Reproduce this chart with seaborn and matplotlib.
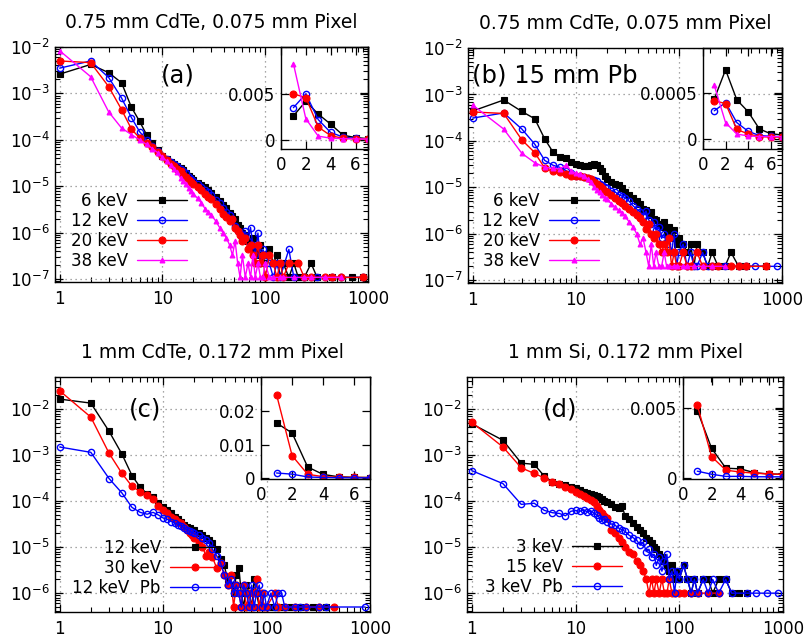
"""
Cluster-size distributions, 4 panels with linear insets (gnuplot look-alike).
"""
import numpy as np
import pandas as pd
import matplotlib
matplotlib.use("Agg")
import matplotlib.pyplot as plt
from matplotlib.ticker import FixedLocator, FixedFormatter, FuncFormatter, NullFormatter
import seaborn as sns

nan = np.nan

# ── Data ────────────────────────────────────────────────────────────────────
SIZE = [1, 2, 3, 4, 5, 6, 7, 8, 9, 10, 11, 12, 13, 14, 15, 16, 17, 18, 19, 20,
        22, 24, 26, 28, 30, 33, 36, 39, 42, 45, 48, 51, 54, 57, 60, 64, 68, 72, 76, 80,
        85, 90, 95, 100, 110, 120, 130, 140, 150, 170, 190, 210, 240, 280, 320, 380, 450, 550, 700, 900]

# (a) 0.75 mm CdTe
A_6 = [2.6e-3, 4.2e-3, 2.8e-3, 1.7e-3, 5.0e-4, 2.5e-4, 1.3e-4, 8.5e-5, 6.0e-5, 4.6e-5,
       3.9e-5, 3.4e-5, 3.1e-5, 2.8e-5, 2.5e-5, 2.2e-5, 1.9e-5, 1.7e-5, 1.5e-5, 1.4e-5,
       1.2e-5, 1.05e-5, 9.5e-6, 8.2e-6, 7.3e-6, 6.0e-6, 4.8e-6, 4.0e-6, 3.5e-6, 2.7e-6,
       2.3e-6, 2.0e-6, 1.5e-6, 1.3e-6, 1.0e-6, 8.8e-7, 6.6e-7, 5.5e-7, 7.7e-7, 4.4e-7,
       3.3e-7, 5.5e-7, 2.2e-7, 3.3e-7, 4.4e-7, 2.2e-7, 3.3e-7, 1.1e-7, 2.2e-7, 1.1e-7,
       2.2e-7, 1.1e-7, 1.1e-7, 2.2e-7, 1.1e-7, nan, 1.1e-7, nan, 1.1e-7, 1.1e-7]
A_12 = [3.5e-3, 5.0e-3, 2.2e-3, 8.0e-4, 3.0e-4, 1.5e-4, 1.0e-4, 7.5e-5, 5.8e-5, 4.5e-5,
        3.8e-5, 3.3e-5, 3.0e-5, 2.7e-5, 2.4e-5, 2.1e-5, 1.9e-5, 1.6e-5, 1.45e-5, 1.3e-5,
        1.1e-5, 9.5e-6, 8.5e-6, 7.5e-6, 6.5e-6, 5.2e-6, 4.4e-6, 3.5e-6, 2.8e-6, 2.4e-6,
        2.0e-6, 1.4e-6, 1.1e-6, 9.9e-7, 7.7e-7, 1.1e-6, 6.6e-7, 1.3e-6, 5.5e-7, 3.3e-7,
        9.9e-7, 2.2e-7, 4.4e-7, 3.3e-7, 2.2e-7, 1.1e-7, 2.2e-7, 1.1e-7, nan, 4.4e-7,
        1.1e-7, nan, 1.1e-7, nan, 1.1e-7, nan, 1.1e-7, 1.1e-7, nan, 1.1e-7]
A_20 = [5.0e-3, 4.6e-3, 1.4e-3, 4.5e-4, 1.7e-4, 1.1e-4, 8.5e-5, 7.0e-5, 5.5e-5, 4.4e-5,
        3.7e-5, 3.1e-5, 2.7e-5, 2.4e-5, 2.1e-5, 1.8e-5, 1.6e-5, 1.4e-5, 1.25e-5, 1.1e-5,
        9.5e-6, 8.2e-6, 7.0e-6, 6.0e-6, 5.3e-6, 4.2e-6, 3.3e-6, 2.6e-6, 2.2e-6, 1.8e-6,
        2.0e-6, 1.3e-6, 1.1e-6, 8.8e-7, 6.6e-7, 7.7e-7, 4.4e-7, 5.5e-7, 3.3e-7, 2.2e-7,
        5.5e-7, 2.2e-7, 3.3e-7, 1.1e-7, 3.3e-7, 2.2e-7, 1.1e-7, 2.2e-7, 1.1e-7, 2.2e-7,
        nan, 2.2e-7, 1.1e-7, 1.1e-7, nan, 1.1e-7, 1.1e-7, 1.1e-7, nan, 1.1e-7]
A_38 = [8.3e-3, 2.3e-3, 4.0e-4, 1.8e-4, 1.3e-4, 1.0e-4, 8.0e-5, 6.5e-5, 5.3e-5, 4.3e-5,
        3.5e-5, 2.9e-5, 2.4e-5, 2.0e-5, 1.5e-5, 1.3e-5, 1.1e-5, 9.0e-6, 8.0e-6, 7.0e-6,
        5.5e-6, 4.4e-6, 3.3e-6, 2.8e-6, 2.4e-6, 1.8e-6, 1.3e-6, 1.0e-6, 7.7e-7, 5.5e-7,
        3.3e-7, 6.6e-7, 2.2e-7, 1.1e-7, 3.3e-7, 1.1e-7, 2.2e-7, 1.1e-7, 3.3e-7, 1.1e-7,
        2.2e-7, 1.1e-7, 1.1e-7, 2.2e-7, 1.1e-7, 1.1e-7, nan, 1.1e-7, 1.1e-7, nan,
        1.1e-7, nan, 1.1e-7, 1.1e-7, nan, 1.1e-7, nan, 1.1e-7, nan, nan]

# (b) 0.75 mm CdTe behind 15 mm Pb
B_6 = [4.4e-4, 7.6e-4, 4.3e-4, 3.0e-4, 1.1e-4, 5.8e-5, 4.5e-5, 4.2e-5, 3.6e-5, 3.2e-5,
       3.0e-5, 2.9e-5, 2.9e-5, 3.0e-5, 3.2e-5, 3.0e-5, 2.6e-5, 2.2e-5, 1.8e-5, 1.5e-5,
       1.3e-5, 1.2e-5, 1.1e-5, 9.5e-6, 8.0e-6, 6.8e-6, 6.0e-6, 5.0e-6, 4.4e-6, 3.5e-6,
       3.3e-6, 2.6e-6, 2.9e-6, 2.1e-6, 2.0e-6, 1.6e-6, 1.4e-6, 1.8e-6, 1.0e-6, 1.4e-6,
       8.0e-7, 1.2e-6, 6.0e-7, 8.0e-7, 6.0e-7, 4.0e-7, 6.0e-7, 2.0e-7, 6.0e-7, 4.0e-7,
       2.0e-7, 4.0e-7, 2.0e-7, 2.0e-7, 4.0e-7, 2.0e-7, 2.0e-7, nan, 2.0e-7, nan]
B_12 = [3.1e-4, 4.0e-4, 1.8e-4, 8.5e-5, 3.8e-5, 3.0e-5, 2.7e-5, 2.3e-5, 2.0e-5, 1.8e-5,
        1.75e-5, 1.7e-5, 1.6e-5, 1.55e-5, 1.45e-5, 1.35e-5, 1.2e-5, 1.1e-5, 1.0e-5, 9.5e-6,
        8.5e-6, 8.0e-6, 7.0e-6, 6.5e-6, 6.0e-6, 5.0e-6, 4.0e-6, 3.4e-6, 3.0e-6, 2.4e-6,
        3.1e-6, 2.0e-6, 1.6e-6, 1.8e-6, 1.2e-6, 1.4e-6, 8.0e-7, 1.0e-6, 6.0e-7, 8.0e-7,
        4.0e-7, 1.0e-6, 2.0e-7, 4.0e-7, 6.0e-7, 2.0e-7, 4.0e-7, 2.0e-7, 2.0e-7, 4.0e-7,
        2.0e-7, 2.0e-7, nan, 2.0e-7, nan, 2.0e-7, 2.0e-7, 2.0e-7, nan, 2.0e-7]
B_20 = [4.2e-4, 3.9e-4, 1.05e-4, 5.6e-5, 2.6e-5, 2.2e-5, 2.1e-5, 1.9e-5, 1.8e-5, 1.8e-5,
        1.75e-5, 1.7e-5, 1.6e-5, 1.5e-5, 1.3e-5, 1.2e-5, 1.05e-5, 9.5e-6, 8.5e-6, 8.0e-6,
        7.0e-6, 6.0e-6, 5.2e-6, 4.6e-6, 4.0e-6, 3.4e-6, 3.0e-6, 2.6e-6, 2.2e-6, 1.8e-6,
        1.3e-6, 1.6e-6, 1.0e-6, 8.0e-7, 1.0e-6, 6.0e-7, 4.0e-7, 6.0e-7, 4.0e-7, 8.0e-7,
        2.0e-7, 4.0e-7, 2.0e-7, 2.0e-7, 4.0e-7, 2.0e-7, 2.0e-7, nan, 4.0e-7, 2.0e-7,
        nan, 2.0e-7, 2.0e-7, nan, 2.0e-7, 2.0e-7, 2.0e-7, nan, 2.0e-7, nan]
B_38 = [5.9e-4, 1.8e-4, 5.4e-5, 3.4e-5, 2.7e-5, 2.6e-5, 2.5e-5, 3.0e-5, 2.3e-5, 2.0e-5,
        1.9e-5, 1.8e-5, 1.5e-5, 1.3e-5, 1.0e-5, 9.0e-6, 8.0e-6, 6.8e-6, 6.0e-6, 5.5e-6,
        4.5e-6, 3.8e-6, 3.2e-6, 2.8e-6, 2.4e-6, 1.8e-6, 1.4e-6, 1.0e-6, 6.0e-7, 8.0e-7,
        4.0e-7, 2.0e-7, 6.0e-7, 2.0e-7, 4.0e-7, 2.0e-7, 2.0e-7, 4.0e-7, 2.0e-7, 2.0e-7,
        nan, 2.0e-7, 2.0e-7, nan, 2.0e-7, 2.0e-7, nan, 2.0e-7, nan, 2.0e-7,
        nan, 2.0e-7, nan, 2.0e-7, nan, nan, nan, nan, nan, nan]

# (c) 1 mm CdTe, 0.172 mm pixel
C_12 = [1.65e-2, 1.35e-2, 3.3e-3, 1.05e-3, 3.6e-4, 2.0e-4, 1.45e-4, 1.25e-4, 9.0e-5, 7.6e-5,
        6.4e-5, 5.4e-5, 4.6e-5, 4.0e-5, 3.5e-5, 3.1e-5, 2.8e-5, 2.6e-5, 2.4e-5, 2.3e-5,
        2.0e-5, 1.8e-5, 1.6e-5, 1.4e-5, 1.2e-5, 9.0e-6, 5.5e-6, 4.0e-6, 2.0e-6, 1.5e-6,
        1.0e-6, 2.5e-6, 3.5e-6, 1.0e-6, 5.0e-7, 1.5e-6, 1.0e-6, 5.0e-7, 2.0e-6, 1.0e-6,
        5.0e-7, 1.0e-6, 5.0e-7, nan, 5.0e-7, 5.0e-7, nan, 5.0e-7, nan, 5.0e-7,
        nan, 5.0e-7, nan, 5.0e-7, nan, 5.0e-7, nan, nan, nan, nan]
C_30 = [2.5e-2, 6.7e-3, 1.1e-3, 4.0e-4, 2.1e-4, 1.6e-4, 1.35e-4, 1.1e-4, 8.0e-5, 6.4e-5,
        5.5e-5, 4.6e-5, 4.0e-5, 3.6e-5, 3.3e-5, 2.8e-5, 2.4e-5, 2.0e-5, 1.8e-5, 1.6e-5,
        1.3e-5, 1.0e-5, 6.5e-6, 8.0e-6, 6.0e-6, 3.5e-6, 4.5e-6, 2.5e-6, 1.5e-6, 2.5e-6,
        5.0e-7, 1.5e-6, 1.0e-6, 5.0e-7, 1.5e-6, 5.0e-7, 1.0e-6, 5.0e-7, 1.0e-6, 2.0e-6,
        5.0e-7, 1.0e-6, 5.0e-7, 5.0e-7, nan, 1.0e-6, 5.0e-7, nan, 5.0e-7, nan,
        5.0e-7, nan, 5.0e-7, nan, 5.0e-7, nan, 5.0e-7, nan, nan, nan]
C_12PB = [1.5e-3, 1.15e-3, 3.1e-4, 1.5e-4, 7.3e-5, 5.7e-5, 5.2e-5, 5.7e-5, 5.0e-5, 4.3e-5,
          4.0e-5, 3.6e-5, 3.3e-5, 3.1e-5, 2.9e-5, 2.6e-5, 2.4e-5, 2.2e-5, 2.1e-5, 2.0e-5,
          1.8e-5, 1.6e-5, 1.4e-5, 1.2e-5, 9.0e-6, 6.5e-6, 4.5e-6, 2.5e-6, 1.5e-6, 2.0e-6,
          1.0e-6, 1.5e-6, 1.0e-6, 5.0e-7, 1.5e-6, 1.0e-6, 5.0e-7, 1.5e-6, 5.0e-7, 1.0e-6,
          1.5e-6, 5.0e-7, 1.0e-6, 5.0e-7, 1.0e-6, 5.0e-7, 1.0e-6, 1.0e-6, 5.0e-7, nan,
          5.0e-7, 5.0e-7, 5.0e-7, nan, 5.0e-7, 5.0e-7, nan, nan, nan, 5.0e-7]

# (d) 1 mm Si, 0.172 mm pixel
D_3 = [4.8e-3, 2.1e-3, 6.7e-4, 6.3e-4, 3.5e-4, 2.6e-4, 2.4e-4, 2.2e-4, 2.0e-4, 1.9e-4,
       1.75e-4, 1.6e-4, 1.5e-4, 1.45e-4, 1.35e-4, 1.3e-4, 1.2e-4, 1.1e-4, 1.0e-4, 9.5e-5,
       8.5e-5, 7.5e-5, 7.0e-5, 8.0e-5, 4.8e-5, 4.0e-5, 3.3e-5, 2.8e-5, 2.4e-5, 2.0e-5,
       1.6e-5, 1.4e-5, 1.2e-5, 1.0e-5, 9.0e-6, 7.0e-6, 6.0e-6, 5.0e-6, 4.0e-6, 3.0e-6,
       4.0e-6, 2.0e-6, 3.0e-6, 2.0e-6, 4.0e-6, 2.0e-6, 1.0e-6, 2.0e-6, 1.0e-6, 2.0e-6,
       2.0e-6, 1.0e-6, 2.0e-6, 2.0e-6, 1.0e-6, 1.0e-6, 1.0e-6, nan, nan, nan]
D_15 = [5.2e-3, 1.5e-3, 5.3e-4, 4.0e-4, 3.2e-4, 2.6e-4, 2.3e-4, 2.0e-4, 1.8e-4, 1.6e-4,
        1.4e-4, 1.3e-4, 1.15e-4, 1.05e-4, 9.5e-5, 8.0e-5, 6.3e-5, 5.5e-5, 4.8e-5, 4.2e-5,
        2.3e-5, 2.0e-5, 1.6e-5, 1.3e-5, 1.0e-5, 8.0e-6, 7.0e-6, 5.0e-6, 4.0e-6, 3.0e-6,
        2.0e-6, 1.0e-6, 2.0e-6, 1.0e-6, 2.0e-6, 1.0e-6, 2.0e-6, 1.0e-6, 1.0e-6, 2.0e-6,
        1.0e-6, 1.0e-6, nan, 1.0e-6, 1.0e-6, nan, 1.0e-6, nan, 1.0e-6, nan,
        1.0e-6, nan, 1.0e-6, nan, nan, nan, nan, nan, nan, nan]
D_3PB = [4.6e-4, 2.4e-4, 8.5e-5, 9.0e-5, 6.3e-5, 5.6e-5, 5.4e-5, 4.8e-5, 6.0e-5, 6.3e-5,
         6.0e-5, 6.5e-5, 5.8e-5, 6.2e-5, 5.5e-5, 5.0e-5, 4.4e-5, 3.8e-5, 4.0e-5, 3.6e-5,
         3.2e-5, 3.0e-5, 2.6e-5, 2.4e-5, 2.2e-5, 1.8e-5, 1.6e-5, 1.4e-5, 1.1e-5, 1.3e-5,
         8.0e-6, 9.0e-6, 6.0e-6, 7.0e-6, 4.0e-6, 6.0e-6, 3.0e-6, 5.0e-6, 7.0e-6, 2.0e-6,
         3.0e-6, 1.0e-6, 3.0e-6, 2.0e-6, 4.0e-6, 2.0e-6, 1.0e-6, 2.0e-6, 1.0e-6, 2.0e-6,
         1.0e-6, 2.0e-6, 1.0e-6, 2.0e-6, 1.0e-6, nan, 1.0e-6, 1.0e-6, 1.0e-6, 1.0e-6]

TITLES = ["0.75 mm CdTe, 0.075 mm Pixel", "0.75 mm CdTe, 0.075 mm Pixel",
          "1 mm CdTe, 0.172 mm Pixel", "1 mm Si, 0.172 mm Pixel"]
TAGS = ["(a)", "(b) 15 mm Pb", "(c)", "(d)"]
INSET_XTICKS = [0, 2, 4, 6]
INSET_YTICKS = [[0, 0.005], [0, 0.0005], [0, 0.01, 0.02], [0, 0.005]]
INSET_YLABELS = [["0", "0.005"], ["0", "0.0005"], ["0", "0.01", "0.02"], ["0", "0.005"]]
N_INSET = 7   # first cluster sizes shown in the linear insets

# ── Styles (gnuplot-like) ───────────────────────────────────────────────────
STY = {
    "k": dict(color="#000000", marker="s", markersize=5, markerfacecolor="#000000", markeredgewidth=0.8),
    "b": dict(color="#0000ff", marker="o", markersize=4.5, markerfacecolor="none", markeredgewidth=1.0),
    "r": dict(color="#ff0000", marker="o", markersize=5, markerfacecolor="#ff0000", markeredgewidth=0.8),
    "m": dict(color="#ff00ff", marker="^", markersize=3.5, markerfacecolor="#ff00ff", markeredgewidth=0.8),
}

sns.set_theme(style="ticks")
plt.rcParams.update({
    "font.family": ["DejaVu Sans"],
    "axes.linewidth": 1.0,
    "axes.edgecolor": "black",
    "xtick.color": "black",
    "ytick.color": "black",
    "text.color": "black",
})

GRID = dict(linestyle=(0, (1, 3)), color="#8a8a8a", linewidth=0.9)
TICK_FS = 12


def draw_series(ax, x, y, key):
    df = pd.DataFrame({"x": x, "y": y}).dropna()
    sns.lineplot(data=df, x="x", y="y", ax=ax, estimator=None, sort=False,
                 linewidth=1.0, markeredgecolor=STY[key]["color"], legend=False, **STY[key])
    return ax.lines[-1]


def style_ticks(ax, size):
    ax.tick_params(which="both", direction="in", top=True, right=True,
                   labelsize=size, color="black")
    ax.tick_params(which="major", length=6, width=0.9)
    ax.tick_params(which="minor", length=3.5, width=0.8)


def panel(fig, rect, irect, k, series, ylim, iylim, tag_xy, tag_ha, leg_anchor, inset_bg):
    ax = fig.add_axes(rect)
    ax.set_xscale("log")
    ax.set_yscale("log")
    handles = []
    for label, y, key in series:
        ln = draw_series(ax, SIZE, y, key)
        ln.set_label(label)
        handles.append(ln)
    ax.set_xlim(0.9, 1000)
    ax.set_ylim(*ylim)
    ax.xaxis.set_major_locator(FixedLocator([1, 10, 100, 1000]))
    ax.xaxis.set_major_formatter(FuncFormatter(lambda v, _: f"{v:g}"))
    ax.xaxis.set_minor_formatter(NullFormatter())
    ax.set_xlabel("")
    ax.set_ylabel("")
    style_ticks(ax, TICK_FS)
    ax.tick_params(axis="x", pad=6)
    ax.tick_params(axis="y", pad=4)
    ax.grid(True, which="major", **GRID)
    ax.set_title(TITLES[k], fontsize=13.5, pad=14)
    ax.text(tag_xy[0], tag_xy[1], TAGS[k], transform=ax.transAxes, fontsize=17.5,
            ha=tag_ha, va="center")
    ax.legend(handles=handles, loc="upper right", bbox_to_anchor=leg_anchor,
              markerfirst=False, frameon=False, fontsize=12, handlelength=3.0,
              handletextpad=0.55, labelspacing=0.12, borderpad=0, borderaxespad=0)

    ins = fig.add_axes(irect)
    ins.set_facecolor(inset_bg)
    for label, y, key in series:
        draw_series(ins, SIZE[:N_INSET], y[:N_INSET], key)
    ins.set_xlim(0, 7)
    ins.set_ylim(*iylim)
    ins.xaxis.set_major_locator(FixedLocator(INSET_XTICKS))
    ins.yaxis.set_major_locator(FixedLocator(INSET_YTICKS[k]))
    ins.yaxis.set_major_formatter(FixedFormatter(INSET_YLABELS[k]))
    ins.set_xlabel("")
    ins.set_ylabel("")
    style_ticks(ins, TICK_FS)
    ins.tick_params(axis="x", pad=5)
    ins.tick_params(axis="y", pad=4)
    return ax, ins


fig = plt.figure(figsize=(8.06, 6.39), dpi=100, facecolor="white")

panel(fig, [0.0682, 0.5587, 0.3883, 0.3678], [0.3486, 0.7668, 0.1079, 0.1596], 0,
      [("6 keV", A_6, "k"), ("12 keV", A_12, "b"), ("20 keV", A_20, "r"), ("38 keV", A_38, "m")],
      (8.75e-8, 1.0e-2), (-0.001, 0.0101), (0.393, 0.877), "center", (0.422, 0.385), "none")

panel(fig, [0.5806, 0.5571, 0.3896, 0.3678], [0.8722, 0.7668, 0.0980, 0.1581], 1,
      [("6 keV", B_6, "k"), ("12 keV", B_12, "b"), ("20 keV", B_20, "r"), ("38 keV", B_38, "m")],
      (8.75e-8, 1.0e-2), (-0.00011, 0.001), (0.013, 0.885), "left", (0.417, 0.389), "none")

panel(fig, [0.0682, 0.0423, 0.3908, 0.3678], [0.3238, 0.2504, 0.1352, 0.1596], 2,
      [("12 keV", C_12, "k"), ("30 keV", C_30, "r"), ("12 keV  Pb", C_12PB, "b")],
      (3.9e-7, 5.0e-2), (-0.0003, 0.0303), (0.286, 0.86), "center", (0.524, 0.312), "white")

panel(fig, [0.5794, 0.0423, 0.3921, 0.3678], [0.8474, 0.2504, 0.1241, 0.1596], 3,
      [("3 keV", D_3, "k"), ("15 keV", D_15, "r"), ("3 keV  Pb", D_3PB, "b")],
      (3.9e-7, 5.0e-2), (-0.0001, 0.0072), (0.294, 0.86), "center", (0.49, 0.316), "none")

fig.savefig("out.png", dpi=100, facecolor="white")
plt.close(fig)
